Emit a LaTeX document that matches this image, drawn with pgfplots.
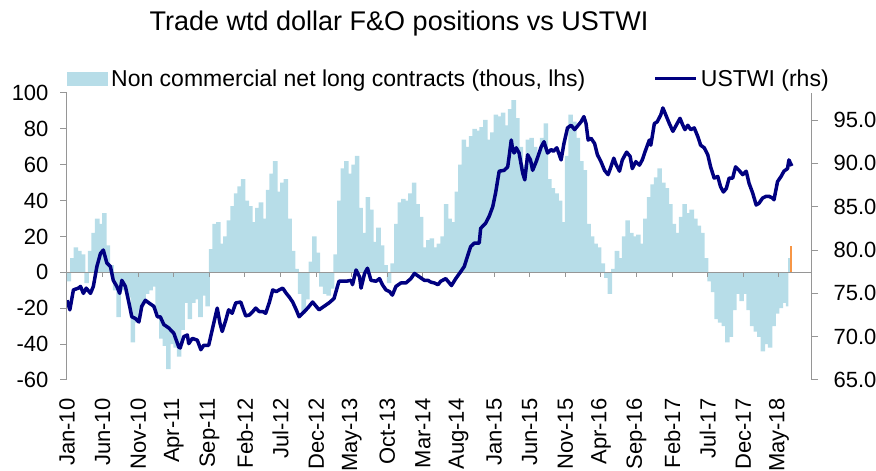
\documentclass[border=0pt]{standalone}
\usepackage{fontspec}
\setmainfont{Liberation Sans}
\usepackage{pgfplots}
\pgfplotsset{compat=1.18}
\definecolor{barblue}{RGB}{183,221,232}
\definecolor{navyline}{RGB}{0,0,128}
\definecolor{orangebar}{RGB}{247,150,70}
\definecolor{axisgray}{RGB}{150,150,150}
\begin{document}
\begin{tikzpicture}[font=\fontsize{22}{26}\selectfont]
\begin{axis}[
  name=main, at={(0,0)}, anchor=south west,
  scale only axis, width=744pt, height=287pt,
  xmin=0, xmax=104.5, ymin=-60, ymax=100,
  axis y line*=left, axis x line*=bottom,
  x axis line style={draw=none},
  y axis line style={draw=axisgray, line width=1pt},
  ytick={-60,-40,...,100},
  ytick style={draw=axisgray, line width=1pt},
  tick align=outside, major tick length=7pt,
  xtick={0,5,...,100},
  xticklabels={Jan-10,Jun-10,Nov-10,Apr-11,Sep-11,Feb-12,Jul-12,Dec-12,May-13,Oct-13,Mar-14,Aug-14,Jan-15,Jun-15,Nov-15,Apr-16,Sep-16,Feb-17,Jul-17,Dec-17,May-18},
  xtick style={draw=none},
  xticklabel style={font=\fontsize{22}{26}\selectfont, yshift=-8pt, rotate=90, anchor=east},
  yticklabel style={font=\fontsize{22}{26}\selectfont, xshift=-8pt},
  /pgf/number format/assume math mode=true,
  legend columns=2,
  legend style={at={(0,1)}, anchor=south west, yshift=3pt, draw=none, fill=none,
    inner sep=0pt, font=\fontsize{23}{26}\selectfont,
    /tikz/every even column/.append style={column sep=65pt},
    nodes={inner xsep=3pt}},
]
\addplot[ybar, bar width=0.64, bar shift=0pt, fill=barblue, draw=none,
  legend image code/.code={\fill[barblue] (0pt,-7pt) rectangle (41pt,7pt);}]
coordinates {
(0.25,-5)(0.75,8)(1.25,14)(1.75,12)(2.25,10)(2.75,-6)(3.25,12)(3.75,22)(4.25,30)(4.75,27)
(5.25,33)(5.75,15)(6.25,4)(6.75,-10)(7.25,-25)(7.75,-10)(8.25,-8)(8.75,-14)(9.25,-39)(9.75,-28)
(10.25,-21)(10.75,-17)(11.25,-12)(11.75,-10)(12.25,-8)(12.75,-25)(13.25,-37)(13.75,-41)(14.25,-54)(14.75,-40)
(15.25,-42)(15.75,-47)(16.25,-32)(16.75,-17)(17.25,-26)(17.75,-17)(18.25,-15)(18.75,-25)(19.25,-13)(19.75,-19)
(20.25,13)(20.75,27)(21.25,28)(21.75,16)(22.25,20)(22.75,29)(23.25,37)(23.75,44)(24.25,48)(24.75,52)
(25.25,40)(25.75,37)(26.25,28)(26.75,36)(27.25,39)(27.75,30)(28.25,46)(28.75,55)(29.25,62)(29.75,45)
(30.25,50)(30.75,52)(31.25,30)(31.75,12)(32.25,2)(32.75,-12)(33.25,-23)(33.75,-15)(34.25,6)(34.75,20)
(35.25,11)(35.75,-8)(36.25,-12)(36.75,-13)(37.25,-9)(37.75,10)(38.25,40)(38.75,58)(39.25,62)(39.75,55)
(40.25,60)(40.75,65)(41.25,36)(41.75,22)(42.25,42)(42.75,35)(43.25,17)(43.75,25)(44.25,15)(44.75,4)
(45.25,-6)(45.75,5)(46.25,27)(46.75,39)(47.25,41)(47.75,40)(48.25,44)(48.75,50)(49.25,38)(49.75,31)
(50.25,14)(50.75,18)(51.25,19)(51.75,14)(52.25,16)(52.75,20)(53.25,38)(53.75,30)(54.25,28)(54.75,45)
(55.25,60)(55.75,74)(56.25,70)(56.75,76)(57.25,80)(57.75,79)(58.25,81)(58.75,85)(59.25,74)(59.75,78)
(60.25,88)(60.75,87)(61.25,89)(61.75,82)(62.25,91)(62.75,96)(63.25,86)(63.75,70)(64.25,60)(64.75,74)
(65.25,75)(65.75,70)(66.25,67)(66.75,75)(67.25,83)(67.75,52)(68.25,47)(68.75,44)(69.25,40)(69.75,28)
(70.25,65)(70.75,88)(71.25,84)(71.75,75)(72.25,62)(72.75,57)(73.25,27)(73.75,20)(74.25,16)(74.75,14)
(75.25,5)(75.75,-3)(76.25,-12)(76.75,2)(77.25,12)(77.75,8)(78.25,20)(78.75,29)(79.25,22)(79.75,20)
(80.25,21)(80.75,16)(81.25,30)(81.75,42)(82.25,49)(82.75,53)(83.25,58)(83.75,50)(84.25,47)(84.75,38)
(85.25,27)(85.75,22)(86.25,31)(86.75,38)(87.25,33)(87.75,35)(88.25,30)(88.75,26)(89.25,22)(89.75,8)
(90.25,-5)(90.75,-11)(91.25,-26)(91.75,-28)(92.25,-30)(92.75,-39)(93.25,-36)(93.75,-21)(94.25,-12)(94.75,-16)
(95.25,-12)(95.75,-21)(96.25,-30)(96.75,-33)(97.25,-36)(97.75,-44)(98.25,-40)(98.75,-42)(99.25,-30)(99.75,-23)
(100.25,-20)(100.75,-17)
};
\addlegendentry{Non commercial net long contracts (thous, lhs)}
\addplot[ybar, bar width=0.36, bar shift=0pt, fill=barblue, draw=none, forget plot]
coordinates {(101.15,-19)(101.45,8)};
\addplot[ybar, bar width=0.3, bar shift=0pt, fill=orangebar, draw=none, forget plot]
coordinates {(101.75,14.5)};
\draw[axisgray, line width=1pt] (axis cs:0,0) -- (axis cs:104.5,0);
\pgfplotsinvokeforeach{5,10,...,100}{
  \draw[axisgray, line width=1pt] (axis cs:#1,0) -- ++(0pt,-5pt);
}
\addlegendimage{legend image code/.code={\draw[navyline, line width=3.5pt] (0pt,0pt) -- (41pt,0pt);}}
\addlegendentry{USTWI (rhs)}
\end{axis}
\begin{axis}[
  at={(0,0)}, anchor=south west,
  scale only axis, width=744pt, height=287pt,
  xmin=0, xmax=104.5, ymin=65, ymax=98.125,
  axis y line*=right, axis x line=none,
  y axis line style={draw=axisgray, line width=1pt},
  ytick={65,70,...,95},
  ytick style={draw=axisgray, line width=1pt},
  tick align=outside, major tick length=7pt,
  yticklabel style={font=\fontsize{22}{26}\selectfont, xshift=12pt, /pgf/number format/.cd, fixed, fixed zerofill, precision=1},
  /pgf/number format/assume math mode=true,
]
\addplot[navyline, line width=3.5pt, line join=round] coordinates {
(0,74.2)(0.4,73.1)(0.9,75.4)(1.6,75.6)(1.9,75.8)(2.3,75.0)(2.7,75.6)(3.3,75.0)(3.7,75.8)(4.2,78.1)
(4.7,79.6)(5.1,80.0)(5.6,78.5)(6.1,78.1)(6.5,76.5)(7.0,75.8)(7.4,75.0)(7.7,76.5)(8.2,75.8)(8.7,73.9)
(9.1,72.3)(9.6,72.1)(10.1,71.7)(10.5,73.5)(11.0,74.2)(11.5,73.9)(12.2,73.5)(12.7,72.3)(13.1,72.3)(13.6,71.4)
(14.3,71.0)(15.0,70.4)(15.7,68.8)(15.9,68.7)(16.4,70.0)(16.9,70.2)(17.1,69.2)(17.6,69.8)(18.3,69.6)(18.8,68.5)
(19.2,69.0)(19.9,69.0)(20.4,70.8)(21.1,73.3)(21.5,71.5)(21.8,70.6)(22.3,71.9)(22.7,73.1)(23.2,72.7)(23.7,73.9)
(24.4,74.0)(25.1,72.4)(25.6,72.5)(26.1,72.9)(26.5,73.3)(27.0,72.9)(27.5,72.9)(27.9,72.7)(28.4,73.9)(28.9,75.4)
(29.4,75.2)(29.8,75.4)(30.3,75.6)(30.8,75.0)(31.2,74.6)(31.7,74.0)(32.2,73.1)(32.6,72.3)(33.1,72.7)(33.8,73.3)
(34.5,74.0)(35.0,73.5)(35.4,73.1)(36.1,73.5)(36.8,73.9)(37.5,74.4)(38.2,76.4)(39.2,76.4)(39.9,76.5)(40.1,76.0)
(40.6,77.7)(41.1,76.9)(41.3,75.6)(41.8,77.3)(42.2,77.9)(42.7,76.5)(43.4,76.4)(43.9,76.7)(44.3,76.0)(44.8,75.4)
(45.3,75.2)(45.7,74.8)(46.2,75.8)(46.9,76.2)(47.6,76.2)(48.3,76.7)(48.8,77.3)(49.5,76.9)(50.2,76.5)(50.7,76.5)
(51.1,76.3)(51.6,76.2)(52.1,76.0)(52.5,76.4)(53.2,76.7)(53.7,76.2)(54.0,75.9)(54.6,76.7)(55.3,77.5)(55.8,78.1)
(56.3,79.4)(56.7,80.4)(57.2,80.8)(57.9,80.8)(58.1,82.5)(58.8,83.1)(59.3,83.9)(59.8,85.0)(60.2,86.6)(60.7,89.1)
(61.4,89.2)(61.9,89.6)(62.1,90.8)(62.4,92.7)(62.6,91.6)(62.8,91.2)(63.1,91.8)(63.5,91.2)(64.0,88.9)(64.3,88.1)
(64.7,91.0)(65.1,90.4)(65.4,89.2)(65.9,90.2)(66.6,91.9)(67.0,92.5)(67.5,91.2)(68.0,91.6)(68.3,91.4)(68.8,91.8)
(69.4,90.4)(69.8,92.3)(70.3,94.1)(70.8,94.4)(71.3,93.9)(71.7,94.3)(72.2,94.8)(72.6,95.4)(72.9,94.6)(73.2,92.7)
(73.6,92.9)(74.1,92.3)(74.5,91.0)(75.0,90.2)(75.5,89.2)(76.0,88.7)(76.4,89.6)(76.8,90.6)(77.1,89.9)(77.6,89.1)
(78.0,90.4)(78.6,91.3)(79.1,90.8)(79.4,89.4)(79.9,90.2)(80.4,89.8)(80.8,90.4)(81.3,91.6)(81.8,92.7)(82.0,92.1)
(82.5,94.6)(82.9,94.8)(83.4,95.6)(83.7,96.4)(84.1,95.6)(84.6,94.6)(85.1,93.7)(85.5,94.3)(86.1,95.2)(86.5,94.4)
(86.8,93.9)(87.2,94.4)(87.6,93.9)(88.1,94.1)(88.6,93.1)(89.0,92.1)(89.5,91.8)(90.0,91.0)(90.4,89.6)(90.9,88.3)
(91.4,88.5)(91.8,87.3)(92.2,86.7)(92.6,87.1)(93.0,88.3)(93.5,88.3)(93.9,89.6)(94.4,89.2)(94.9,88.7)(95.4,89.1)
(95.8,87.7)(96.3,86.6)(96.8,85.2)(97.2,85.4)(97.7,86.0)(98.2,86.2)(98.6,86.2)(99.1,86.0)(99.3,85.8)(99.8,87.9)
(100.3,88.5)(100.7,89.1)(101.2,89.4)(101.4,90.4)(101.8,89.7)
};
\end{axis}
\node[anchor=base, font=\fontsize{27}{30}\selectfont] at (332pt,349pt) {Trade wtd dollar F\&O positions vs USTWI};
\pgfresetboundingbox
\useasboundingbox (-67pt,-91pt) rectangle (809pt,380pt);
\end{tikzpicture}
\end{document}
